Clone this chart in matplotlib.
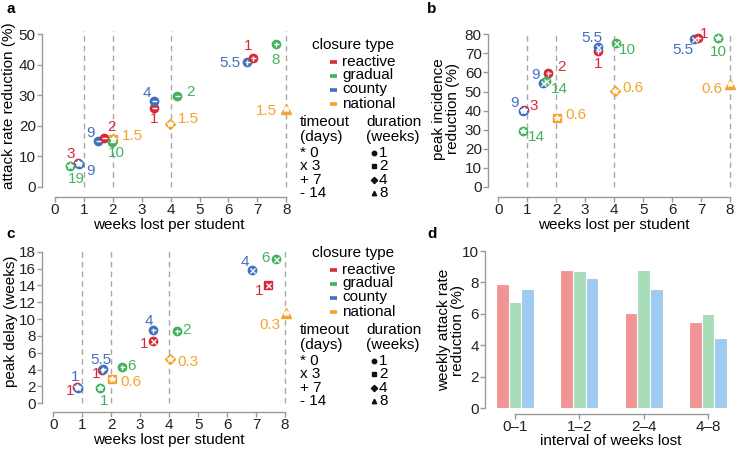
import matplotlib
matplotlib.use("Agg")
import matplotlib.pyplot as plt
import numpy as np

plt.rcParams['font.family'] = ['Liberation Sans', 'DejaVu Sans']

W, H = 737, 450
DPI = 100

# ---------------- data ----------------
types = ["reactive", "gradual", "county", "national"]
type_colors = {"reactive": "#D42B36", "gradual": "#43B25E", "county": "#4170C0", "national": "#F4A42C"}
bar_colors = ["#F39494", "#A8DDBA", "#9FCBF0"]
durations = [1, 2, 4, 8]
dur_markers = {1: "o", 2: "s", 4: "D", 8: "^"}
timeouts = [0, 3, 7, 14]
timeout_glyph = {0: "*", 3: "x", 7: "+", 14: "_"}
timeout_text = {0: "*", 3: "x", 7: "+", 14: "-"}

# panel a: attack rate reduction (%)
a_x = [0.52, 0.80, 0.83, 1.48, 1.70, 2.00, 1.98, 3.43, 3.43, 4.21, 3.98, 6.63, 6.86, 7.64, 7.99]
a_y = [6.8, 8.0, 7.6, 15.0, 15.9, 15.6, 14.8, 25.9, 28.2, 29.8, 20.5, 40.7, 42.3, 46.6, 25.4]
a_type = ["gradual", "reactive", "county", "county", "reactive", "national", "gradual", "reactive",
          "county", "gradual", "national", "county", "reactive", "gradual", "national"]
a_dur = [1, 1, 1, 1, 1, 2, 1, 1, 1, 1, 4, 1, 1, 1, 8]
a_tmo = [0, 0, 0, 14, 14, 0, 14, 14, 14, 14, 0, 7, 7, 7, 0]
a_lab = ["19", "3", "9", "9", "2", "1.5", "10", "1", "4", "2", "1.5", "5.5", "1", "8", "1.5"]

# panel b: peak incidence reduction (%)
b_x = [0.86, 0.90, 0.86, 1.73, 1.55, 1.65, 2.04, 3.45, 3.45, 4.05, 4.03, 6.76, 6.91, 7.60, 8.00]
b_y = [29.3, 40.5, 39.8, 59.5, 54.3, 55.7, 36.0, 71.0, 73.5, 75.3, 50.5, 77.4, 78.2, 77.9, 53.8]
b_type = ["gradual", "reactive", "county", "reactive", "county", "gradual", "national", "reactive",
          "county", "gradual", "national", "county", "reactive", "gradual", "national"]
b_dur = [1, 1, 1, 1, 1, 1, 2, 1, 1, 1, 4, 1, 1, 1, 8]
b_tmo = [0, 0, 0, 7, 3, 3, 0, 7, 3, 3, 0, 3, 7, 0, 0]
b_lab = ["14", "3", "9", "2", "9", "14", "0.6", "1", "5.5", "10", "0.6", "5.5", "1", "10", "0.6"]

# panel c: peak delay (weeks)
c_x = [0.82, 0.86, 1.61, 1.68, 1.73, 2.02, 2.36, 3.45, 3.45, 4.26, 4.03, 6.87, 7.69, 7.42, 8.04]
c_y = [1.90, 1.85, 1.78, 3.95, 4.07, 2.85, 4.35, 8.70, 7.44, 8.58, 5.22, 15.8, 17.1, 14.1, 10.7]
c_type = ["reactive", "county", "gradual", "reactive", "county", "national", "gradual", "county",
          "reactive", "gradual", "national", "county", "gradual", "reactive", "national"]
c_dur = [1, 1, 1, 1, 1, 2, 1, 1, 1, 1, 4, 1, 1, 2, 8]
c_tmo = [0, 0, 0, 7, 7, 0, 7, 7, 3, 7, 0, 3, 3, 3, 0]
c_lab = ["1", "1", "1", "1", "5.5", "0.6", "6", "4", "1", "2", "0.3", "4", "6", "1", "0.3"]

# panel d: weekly attack rate reduction (%)
d_cats = ["0\u20131", "1\u20132", "2\u20134", "4\u20138"]
d_reactive = [7.9, 8.8, 6.05, 5.5]
d_gradual = [6.75, 8.75, 8.8, 6.0]
d_county = [7.6, 8.3, 7.6, 4.45]

# label placement (pixel offsets of each value label from its marker: dx right, dy down)
a_off = [(6, 13), (-7, -9), (12, 7), (-7, -8), (7, -11), (20, -3), (4, 11), (0, 11), (-7, -8),
         (14, -4), (18, -5), (-17, 1), (-5, -12), (0, 16), (-19, 2)]
b_off = [(13, 6), (9, -4), (-9, -8), (13, -6), (-8, -8), (13, 8), (19, -3), (0, 13), (-6, -9),
         (12, 7), (18, -3), (-11, 11), (6, -4), (0, 14), (-18, 5)]
c_off = [(-7, 4), (-3, -11), (4, 13), (-6, 4), (-2, -9), (19, 3), (10, -1), (-4, -9), (-9, 3),
         (10, -1), (18, 3), (-7, -8), (-11, -1), (-9, 6), (-16, 12)]

# ---------------- figure ----------------
fig = plt.figure(figsize=(W / DPI, H / DPI), dpi=DPI)
SPINE = "#9A9A9A"
TFS = 11      # tick labels
LFS = 11      # axis labels
PFS = 11      # point labels
GFS = 11      # legend text


def add_ax(left, right, top, bottom):
    ax = fig.add_axes([left / W, 1 - bottom / H, (right - left) / W, (bottom - top) / H])
    ax._px = (left, right, top, bottom)
    return ax


def style(ax, xb, yb):
    for s in ["top", "right"]:
        ax.spines[s].set_visible(False)
    for s in ["left", "bottom"]:
        ax.spines[s].set_color(SPINE)
        ax.spines[s].set_linewidth(1.0)
    ax.spines["bottom"].set_bounds(*xb)
    ax.spines["left"].set_bounds(*yb)
    ax.tick_params(colors=SPINE, labelcolor="#222222", labelsize=TFS, length=3.5, width=1.0, pad=1)
    ax.tick_params(axis="x", pad=0.5)


def labels(ax, xl, yl, xly, ylx, yly):
    left, right, top, bottom = ax._px
    ax.set_xlabel(xl, fontsize=LFS, va="center", ha="center")
    ax.xaxis.set_label_coords(0.5, (bottom - xly) / (bottom - top))
    ax.set_ylabel(yl, fontsize=LFS, va="center", ha="center", linespacing=1.0)
    ax.yaxis.set_label_coords((ylx - left) / (right - left), (bottom - yly) / (bottom - top))


def scatter_panel(ax, xs, ys, tps, durs, tmos, labs, offs):
    for x, y, t, d, tm, lab, off in zip(xs, ys, tps, durs, tmos, labs, offs):
        col = type_colors[t]
        m = dur_markers[d]
        ms = {"o": 6.0, "s": 5.6, "D": 5.0, "^": 6.8}[m]
        ax.plot([x], [y], marker=m, ms=ms, color=col, mec=col, ls="none", zorder=3)
        gm = timeout_glyph[tm]
        ax.plot([x], [y], marker=gm, ms=3.6 if gm != "*" else 4.0, color="white", mec="white",
                mew=1.0, ls="none", zorder=4)
        ax.annotate(lab, (x, y), xytext=(off[0], -off[1]), textcoords="offset pixels",
                    ha="center", va="center", color=col, fontsize=PFS, zorder=5)


def vdash(ax, top):
    for xv in [1, 2, 4, 8]:
        ax.plot([xv, xv], [0, top], ls=(0, (4, 3)), color="#A8A8A8", lw=1.0, zorder=1)


# panel a  (x px = 55 + 28.9x ; y px = 187 - 3.06y)
axa = add_ax(42, 296, 25, 197)
axa.set_xlim((42 - 55) / 28.9, (296 - 55) / 28.9)
axa.set_ylim((187 - 197) / 3.06, (187 - 25) / 3.06)
vdash(axa, 51)
scatter_panel(axa, a_x, a_y, a_type, a_dur, a_tmo, a_lab, a_off)
axa.set_xticks(range(0, 9))
axa.set_yticks(range(0, 51, 10))
style(axa, (0, 8), (0, 50))
labels(axa, "weeks lost per student", "attack rate reduction (%)", 224.5, 9, 106)

# panel b  (x px = 498.3 + 28.96x ; y px = 187 - 1.909y)
axb = add_ax(488, 740, 25, 197)
axb.set_xlim((488 - 498.3) / 28.96, (740 - 498.3) / 28.96)
axb.set_ylim((187 - 197) / 1.909, (187 - 25) / 1.909)
vdash(axb, 81)
scatter_panel(axb, b_x, b_y, b_type, b_dur, b_tmo, b_lab, b_off)
axb.set_xticks(range(0, 9))
axb.set_yticks(range(0, 81, 10))
style(axb, (0, 8), (0, 80))
labels(axb, "weeks lost per student", "peak incidence\nreduction (%)", 224.5, 446, 109)

# panel c  (x px = 53.3 + 28.96x ; y px = 403.3 - 8.42y)
axc = add_ax(42, 296, 243, 412)
axc.set_xlim((42 - 53.3) / 28.96, (296 - 53.3) / 28.96)
axc.set_ylim((403.3 - 412) / 8.42, (403.3 - 243) / 8.42)
vdash(axc, 18.2)
scatter_panel(axc, c_x, c_y, c_type, c_dur, c_tmo, c_lab, c_off)
axc.set_xticks(range(0, 9))
axc.set_yticks(range(0, 19, 2))
style(axc, (0, 8), (0, 18))
labels(axc, "weeks lost per student", "peak delay (weeks)", 440, 11, 321)

# panel d  (x px = 515 + 64.3i ; y px = 408 - 15.7y)
axd = add_ax(485, 737, 243, 414)
axd.set_xlim((485 - 515) / 64.3, (737 - 515) / 64.3)
axd.set_ylim((408 - 414) / 15.7, (408 - 243) / 15.7)
xi = np.arange(len(d_cats))
bw = 0.196
for k, vals in enumerate([d_reactive, d_gradual, d_county]):
    axd.bar(xi + (k - 1) * bw, vals, width=bw, color=bar_colors[k], edgecolor="white",
            linewidth=0.8, zorder=2)
axd.set_xticks(xi)
axd.set_xticklabels(d_cats)
axd.set_yticks(range(0, 11, 2))
style(axd, (0, 3), (0, 10))
labels(axd, "interval of weeks lost", "weekly attack rate\nreduction (%)", 441, 451, 330)

# panel letters
for lt, (px, py) in {"a": (11, 9), "b": (432, 9), "c": (11, 234), "d": (432, 234)}.items():
    fig.text(px / W, 1 - py / H, lt, fontsize=11, fontweight="bold", ha="center", va="center")

# legends
ov = fig.add_axes([0, 0, 1, 1])
ov.set_xlim(0, W)
ov.set_ylim(H, 0)
ov.axis("off")


def draw_legend(dy):
    ov.text(312, 45 + dy, "closure type", fontsize=GFS, ha="left", va="center")
    for i, t in enumerate(types):
        yy = 61.5 + 14 * i + dy
        ov.plot([330, 337], [yy, yy], color=type_colors[t], lw=2.6, solid_capstyle="butt")
        ov.text(342, yy, t, fontsize=GFS, ha="left", va="center")
    ov.text(300, 122 + dy, "timeout", fontsize=GFS, ha="left", va="center")
    ov.text(300, 137 + dy, "(days)", fontsize=GFS, ha="left", va="center")
    ov.text(366, 122 + dy, "duration", fontsize=GFS, ha="left", va="center")
    ov.text(366, 137 + dy, "(weeks)", fontsize=GFS, ha="left", va="center")
    for i, (tm, du) in enumerate(zip(timeouts, durations)):
        yy = 153 + 13.3 * i + dy
        ov.text(300, yy, f"{timeout_text[tm]} {tm}", fontsize=GFS, ha="left", va="center")
        ov.plot([374], [yy], marker=dur_markers[du], ms=3.2, color="#111111", ls="none")
        ov.text(379, yy, str(du), fontsize=GFS, ha="left", va="center")


draw_legend(0)
draw_legend(208)

fig.savefig("out.png", dpi=DPI)
